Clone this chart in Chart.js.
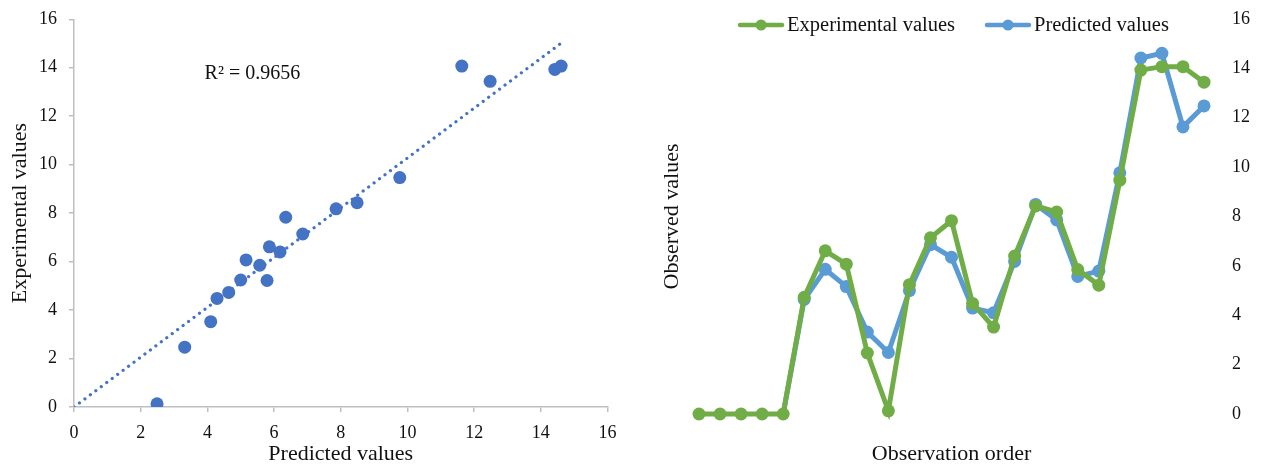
<!DOCTYPE html>
<html>
<head>
<meta charset="utf-8">
<script src="https://cdn.jsdelivr.net/npm/chart.js@4.4.1/dist/chart.umd.min.js"></script>
<style>
  html, body { margin: 0; padding: 0; background: #fff; }
  #wrap { position: relative; width: 1262px; height: 467px; overflow: hidden; }
  canvas { position: absolute; top: 0; }
  #scatter { left: 0; }
  #order { left: 640px; }
</style>
</head>
<body>
<div id="wrap">
  <canvas id="scatter" width="640" height="467"></canvas>
  <canvas id="order" width="622" height="467"></canvas>
</div>
<script>
// Observation order (category labels)
const observationOrder = ['1','2','3','4','5','6','7','8','9','10','11','12','13','14','15','16','17','18','19','20','21','22','23','24','25'];
// Measured values per observation
const experimentalValues = [0, 0, 0, 0, 0, 4.73, 6.61, 6.07, 2.47, 0.13, 5.24, 7.14, 7.83, 4.48, 3.52, 6.40, 8.43, 8.18, 5.85, 5.22, 9.47, 13.93, 14.07, 14.07, 13.44];
// Model predictions per observation
const predictedValues = [0, 0, 0, 0, 0, 4.64, 5.86, 5.16, 3.32, 2.49, 5.00, 6.86, 6.35, 4.29, 4.10, 6.18, 8.49, 7.86, 5.57, 5.79, 9.77, 14.42, 14.61, 11.63, 12.48];
// Axis tick values shared by both panels
const axisTicks = [0, 2, 4, 6, 8, 10, 12, 14, 16];
const rSquaredLabel = 'R\u00B2 = 0.9656';
const rSquaredAnchor = { x: 5.35, y: 13.75 };

const FONT = '"Liberation Serif", "Times New Roman", serif';
const AXIS_GREY = '#bfbfbf';
const TEXT = '#111111';
const GREEN = '#70ad47';
const BLUE = '#5b9bd5';
const DARK_BLUE = '#4472c4';

Chart.defaults.font.family = FONT;
Chart.defaults.color = TEXT;
Chart.defaults.animation = false;

const fixTicks = scale => { scale.ticks = axisTicks.map(v => ({ value: v })); };
// fixed axis width; keep only half a label of head-room above/below the plot
const fixWidth = w => s => { s.width = w; s.paddingTop = 10; s.paddingBottom = 10; };

// ---- Left panel: experimental vs predicted scatter with a trendline through the origin ----
const scatterPoints = [];
predictedValues.forEach((p, i) => {
  const e = experimentalValues[i];
  if (p !== 0 || e !== 0) scatterPoints.push({ x: p, y: e });
});
let sxy = 0, sxx = 0, xMax = 0;
scatterPoints.forEach(pt => { sxy += pt.x * pt.y; sxx += pt.x * pt.x; xMax = Math.max(xMax, pt.x); });
const slope = sxy / sxx;
const trendPoints = [{ x: 0, y: 0 }, { x: xMax, y: slope * xMax }];

const rSquaredText = {
  id: 'rSquaredText',
  afterDatasetsDraw(chart) {
    const { ctx, scales } = chart;
    ctx.save();
    ctx.font = '20px ' + FONT;
    ctx.fillStyle = TEXT;
    ctx.textAlign = 'center';
    ctx.textBaseline = 'middle';
    ctx.fillText(rSquaredLabel, scales.x.getPixelForValue(rSquaredAnchor.x), scales.y.getPixelForValue(rSquaredAnchor.y));
    ctx.restore();
  }
};

new Chart(document.getElementById('scatter'), {
  type: 'scatter',
  data: {
    datasets: [
      {
        label: 'Observations',
        data: scatterPoints,
        backgroundColor: DARK_BLUE,
        borderColor: DARK_BLUE,
        pointRadius: 6.5,
        borderWidth: 0,
        order: 1
      },
      {
        type: 'line',
        label: 'Linear trend',
        data: trendPoints,
        borderColor: DARK_BLUE,
        borderWidth: 3.2,
        borderDash: [0.01, 6.8],
        borderCapStyle: 'round',
        pointRadius: 0,
        fill: false,
        order: 2
      }
    ]
  },
  options: {
    responsive: false,
    animation: false,
    layout: { padding: { top: 19.3, right: 32.5, left: 0, bottom: 0 } },
    plugins: { legend: { display: false }, tooltip: { enabled: false } },
    scales: {
      x: {
        type: 'linear', min: 0, max: 16,
        afterBuildTicks: fixTicks,
        afterFit: s => { s.height = 60; },
        ticks: { font: { size: 18 }, color: TEXT, padding: 10, maxRotation: 0 },
        grid: { drawOnChartArea: false, drawTicks: true, tickLength: 5, color: AXIS_GREY, lineWidth: 1.5 },
        border: { color: AXIS_GREY, width: 1.5 },
        title: { display: true, text: 'Predicted values', font: { size: 22 }, color: TEXT, padding: { top: 2, bottom: 0 } }
      },
      y: {
        type: 'linear', min: 0, max: 16,
        afterBuildTicks: fixTicks,
        afterFit: fixWidth(74),
        ticks: { font: { size: 18 }, color: TEXT, padding: 12 },
        grid: { drawOnChartArea: false, drawTicks: true, tickLength: 5, color: AXIS_GREY, lineWidth: 1.5 },
        border: { color: AXIS_GREY, width: 1.5 },
        title: { display: true, text: 'Experimental values', font: { size: 22 }, color: TEXT, padding: { top: 7, bottom: 0 } }
      }
    }
  },
  plugins: [rSquaredText]
});

// ---- Right panel: both series along the observation order ----
const lineLegend = {
  id: 'lineLegend',
  afterDraw(chart) {
    const { ctx, chartArea } = chart;
    const lineLen = 46, gap = 3, itemGap = 30, y = 25;
    ctx.save();
    ctx.font = '20.5px ' + FONT;
    const items = chart.data.datasets.map(ds => ({
      text: ds.label, color: ds.borderColor, w: lineLen + gap + ctx.measureText(ds.label).width
    }));
    const total = items.reduce((a, it) => a + it.w, 0) + itemGap * (items.length - 1);
    let x = (chartArea.left + chartArea.right) / 2 + 2 - total / 2;
    items.forEach(it => {
      ctx.strokeStyle = it.color;
      ctx.lineWidth = 4.5;
      ctx.lineCap = 'round';
      ctx.beginPath();
      ctx.moveTo(x + 2, y);
      ctx.lineTo(x + lineLen - 2, y);
      ctx.stroke();
      ctx.fillStyle = it.color;
      ctx.beginPath();
      ctx.arc(x + lineLen / 2, y, 5.5, 0, Math.PI * 2);
      ctx.fill();
      ctx.fillStyle = TEXT;
      ctx.textAlign = 'left';
      ctx.textBaseline = 'middle';
      ctx.fillText(it.text, x + lineLen + gap, y + 1);
      x += it.w + itemGap;
    });
    ctx.restore();
  }
};

new Chart(document.getElementById('order'), {
  type: 'line',
  data: {
    labels: observationOrder,
    datasets: [
      {
        label: 'Experimental values',
        data: experimentalValues,
        borderColor: GREEN,
        backgroundColor: GREEN,
        borderWidth: 5,
        pointRadius: 6.5,
        pointBorderWidth: 0,
        tension: 0,
        clip: false,
        yAxisID: 'y'
      },
      {
        label: 'Predicted values',
        data: predictedValues,
        borderColor: BLUE,
        backgroundColor: BLUE,
        borderWidth: 5,
        pointRadius: c => (c.raw === 0 ? 0 : 6.5),
        pointBorderWidth: 0,
        tension: 0,
        clip: false,
        segment: {
          borderWidth: c => (c.p0.parsed.y === 0 && c.p1.parsed.y === 0 ? 2 : undefined)
        },
        yAxisID: 'y'
      }
    ]
  },
  options: {
    responsive: false,
    animation: false,
    layout: { padding: { top: 19, right: 0, left: 0, bottom: 0 } },
    plugins: { legend: { display: false }, tooltip: { enabled: false } },
    scales: {
      x: {
        type: 'category', offset: false,
        afterFit: s => { s.height = 53; },
        ticks: { display: false },
        grid: { display: false },
        border: { display: false },
        title: { display: true, text: 'Observation order', font: { size: 22 }, color: TEXT, padding: { top: 22, bottom: 0 } }
      },
      yl: {
        type: 'linear', position: 'left', min: 0, max: 16,
        afterFit: fixWidth(59),
        ticks: { display: false },
        grid: { display: false },
        border: { display: false },
        title: { display: true, text: 'Observed values', font: { size: 22 }, color: TEXT, padding: { top: 19, bottom: 0 } }
      },
      y: {
        type: 'linear', position: 'right', min: 0, max: 16,
        afterBuildTicks: fixTicks,
        afterFit: fixWidth(58),
        ticks: { font: { size: 18 }, color: TEXT, padding: 28 },
        grid: { display: false, drawTicks: false },
        border: { display: false }
      }
    }
  },
  plugins: [lineLegend]
});
</script>
</body>
</html>
